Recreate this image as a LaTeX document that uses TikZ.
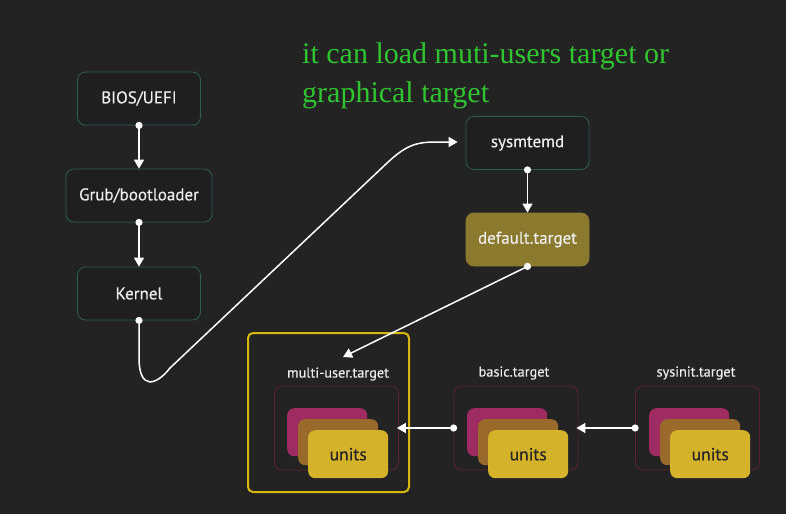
\documentclass[tikz,border=0pt]{standalone}
\usepackage{fontspec}
\setmainfont{PT Sans}
\newfontfamily\nf[FakeBold=0.35]{PT Sans}
\newfontfamily\greenserif{Liberation Serif}
\usetikzlibrary{arrows.meta}
\definecolor{bg}{HTML}{232323}
\definecolor{nodebg}{HTML}{1F1F1F}
\definecolor{tealb}{HTML}{2D5E50}
\definecolor{olive}{HTML}{8B7A2E}
\definecolor{ybord}{HTML}{D8B80C}
\definecolor{redb}{HTML}{5A2232}
\definecolor{magc}{HTML}{9E2B62}
\definecolor{brownc}{HTML}{9A6A2C}
\definecolor{yellc}{HTML}{D4B22A}
\definecolor{txt}{HTML}{EEEEEE}
\definecolor{gtxt}{HTML}{30C430}
\tikzset{
  bootbox/.style={draw=tealb, fill=nodebg, rounded corners=8pt, line width=0.8pt, text=txt,
    font=\nf\fontsize{17}{20}\selectfont, minimum width=123pt, minimum height=53pt, inner sep=0pt},
  conn/.style={draw=white, line width=1.5pt, -{Triangle[width=10pt,length=9pt]}},
  dot/.style={fill=white},
  tgtbox/.style={draw=redb, line width=0.8pt, rounded corners=8pt, minimum width=124pt, minimum height=84pt, inner sep=0pt},
  tgtlabel/.style={text=txt, font=\nf\fontsize{14.3}{17}\selectfont, inner sep=0pt},
  card/.style={rounded corners=7pt, minimum width=80pt, inner sep=0pt},
  unitcard/.style={card, fill=yellc, minimum height=48pt, text=black!85, font=\nf\fontsize{17.5}{20}\selectfont}
}
\begin{document}
\begin{tikzpicture}[x=1pt,y=-1pt]
\fill[bg] (0,0) rectangle (786,514);
\useasboundingbox (0,0) rectangle (786,514);

% green note
\node[anchor=base west, inner sep=0pt, text=gtxt, font=\greenserif\fontsize{30}{34}\selectfont] (note1) at (302,63) {it can load muti-users target or};
\node[anchor=base west, inner sep=0pt, text=gtxt, font=\greenserif\fontsize{30}{34}\selectfont] (note2) at (302,102) {graphical target};

% boot chain
\node[bootbox] (bios) at (139,98.5) {BIOS/UEFI};
\node[bootbox, minimum width=146pt] (grub) at (139,195.5) {Grub/bootloader};
\node[bootbox] (kernel) at (139,293.5) {Kernel};
\node[bootbox] (sysd) at (527.5,143) {sysmtemd};
\node[bootbox, fill=olive, draw=olive] (deft) at (527.5,239.5) {default.target};

% selection frame
\node[draw=ybord, line width=2pt, rounded corners=5pt, minimum width=161pt, minimum height=159pt, inner sep=0pt] (sel) at (328.5,412.5) {};

% targets
\node[tgtbox] (multi) at (336.5,428) {};
\node[tgtbox] (basic) at (516,428) {};
\node[tgtbox] (sysinit) at (697.5,428) {};
\node[tgtlabel] (lmulti) at (338,374) {multi-user.target};
\node[tgtlabel] (lbasic) at (514,373) {basic.target};
\node[tgtlabel] (lsysinit) at (696,373) {sysinit.target};

% unit stacks
\foreach \n/\x in {m/274, b/454, s/636} {
  \node[card, fill=magc, minimum height=48pt, anchor=north west] (\n mag) at (\x+13,408) {};
  \node[card, fill=brownc, minimum height=46pt, anchor=north west] (\n brn) at (\x+24,419) {};
  \node[unitcard, anchor=north west] (\n unit) at (\x+34,430) {units};
}

% connectors
\draw[conn] (bios.south) -- (grub.north);
\draw[conn] (grub.south) -- (kernel.north);
\draw[conn] (sysd.south) -- (deft.north);
\draw[conn] (kernel.south) -- (139,358) .. controls (139,390) and (156,386) .. (170,368)
  -- (386,164) .. controls (405,146) and (415,142) .. (436,142) -- ([xshift=-8pt]sysd.west |- 0,142);
\coordinate (mtip) at (343,357);
\draw[conn] (deft.south) -- (mtip);
\draw[conn] (sysinit.west) -- ([xshift=-2pt]basic.east);
\draw[conn] (basic.west) -- ([xshift=-2pt]multi.east);

\foreach \p in {bios.south, grub.south, kernel.south, sysd.south, deft.south, sysinit.west, basic.west}
  \fill[dot] (\p) circle (3.6pt);
\end{tikzpicture}
\end{document}
